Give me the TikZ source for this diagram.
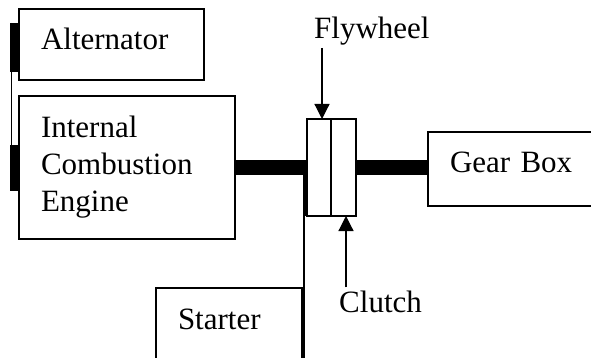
\documentclass[tikz,border=0pt]{standalone}
\usepackage{fontspec}
\setmainfont{Liberation Serif}
\usetikzlibrary{arrows.meta}
\begin{document}
\begin{tikzpicture}[
  x=1pt, y=-1pt,
  font=\fontsize{31}{37}\selectfont,
  box/.style={draw, line width=1.2pt, anchor=north west, inner xsep=22pt, inner ysep=0pt, outer sep=0pt, align=left},
  part/.style={draw, line width=1.2pt, anchor=north west, inner sep=0pt, outer sep=0pt},
  lbl/.style={anchor=base west, inner sep=0pt},
  shaft/.style={line width=15pt},
  arrow/.style={-{Triangle[width=15pt,length=15pt]}, line width=1.2pt}
]
\useasboundingbox (0,0) rectangle (591,358);
\clip (0,0) rectangle (591,358);

\node[box, text width=141pt, text height=41pt, text depth=30pt] (alt) at (19,9) {Alternator};
\node[box, text width=172pt, minimum height=143pt] (engine) at (19,96) {Internal\\Combustion\\Engine};
\node[box, text width=148pt, text height=40pt, text depth=34pt] (gear) at (428,132) {Gear Box};
\node[box, text width=102pt, text height=41pt, text depth=71pt] (starter) at (156,288) {Starter};
\node[part, minimum width=24pt, minimum height=97pt] (fw) at (307,119) {};
\node[part, minimum width=25pt, minimum height=97pt] (cl) at (331,119) {};
\node[lbl] (fwlabel) at (314,39) {Flywheel};
\node[lbl] (cllabel) at (339,312) {Clutch};

% belt between alternator and engine
\fill (10,23) rectangle (19,72);
\fill (10,145) rectangle (19,191);
\draw[line width=1.2pt] (11.5,23) -- (11.5,191);

% shafts
\draw[shaft] (engine) -- (fw);
\draw[shaft] (cl.east) -- (cl.east -| gear.west);

% starter drive
\draw[line width=4pt] (305,175) -- (305,216);
\draw[line width=1.2pt] ([xshift=2pt]starter.north east |- fw.south) -- ([xshift=2pt]starter.south east);

\draw[arrow] ([xshift=8pt,yshift=-2pt]fwlabel.south west) -- ([xshift=8pt]fwlabel.south west |- fw.north);
\draw[arrow] ([xshift=7pt,yshift=3pt]cllabel.north west) -- ([xshift=7pt]cllabel.north west |- cl.south);
\end{tikzpicture}
\end{document}
